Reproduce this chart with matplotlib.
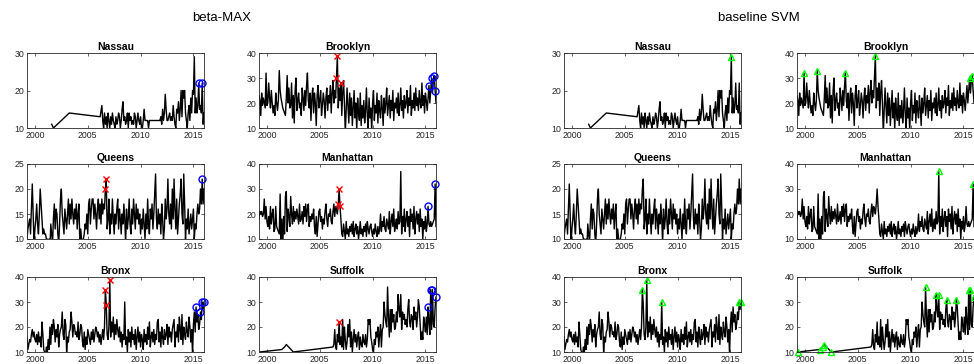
import numpy as np
import matplotlib
matplotlib.use('Agg')
from matplotlib import pyplot as plt

plt.rcParams['font.family'] = ['Liberation Sans', 'DejaVu Sans']

# monthly grid: month index 0 = 1999.25 (Apr 1999), 201 = 2016.0
_START = 1999.25

# ---- series (month index -> count) ----
brooklyn_start = 0
brooklyn = [23, 21, 15, 24, 19, 22, 20, 18, 32, 19, 20, 28,
            22, 18, 25, 20, 16, 19, 15, 24, 20, 17, 21, 33,
            25, 22, 20, 18, 17, 16, 15, 22, 31, 20, 26, 18,
            19, 28, 14, 23, 12, 25, 30, 17, 21, 24, 18, 20,
            15, 26, 22, 17, 25, 19, 27, 32, 21, 18, 24, 13,
            22, 26, 16, 24, 20, 11, 23, 27, 18, 21, 25, 15,
            19, 24, 21, 14, 22, 26, 17, 23, 20, 27, 16, 24,
            29, 20, 25, 22, 30, 39, 18, 26, 21, 28, 15, 24,
            29, 20, 8, 17, 26, 19, 12, 24, 15, 22, 11, 18,
            25, 14, 20, 9, 22, 16, 13, 24, 11, 19, 14, 21,
            12, 17, 26, 15, 10, 22, 14, 18, 9, 20, 25, 13,
            19, 16, 24, 12, 21, 17, 14, 23, 18, 11, 22, 16,
            20, 26, 15, 19, 23, 14, 21, 17, 25, 13, 20, 18,
            22, 16, 24, 15, 19, 26, 17, 21, 14, 23, 18, 20,
            25, 16, 22, 19, 27, 15, 21, 18, 24, 17, 26, 19,
            22, 17, 25, 20, 18, 28, 19, 23, 16, 24, 21, 17,
            22, 27, 20, 25, 30, 24, 29, 31, 25, 20]

queens_start = 0
queens = [10, 12, 13, 14, 11, 16, 21, 15, 9, 12, 14, 17,
          13, 11, 15, 20, 17, 14, 11, 12, 11, 11, 10, 10,
          9, 10, 8, 13, 11, 9, 14, 17, 12, 16, 15, 11,
          9, 13, 18, 20, 15, 13, 11, 16, 14, 12, 15, 18,
          13, 17, 14, 18, 15, 13, 16, 14, 17, 12, 15, 17,
          9, 12, 10, 8, 10, 11, 13, 12, 15, 11, 17, 18,
          13, 16, 18, 18, 14, 17, 15, 12, 16, 18, 14, 17,
          13, 18, 15, 17, 16, 20, 22, 12, 14, 18, 11, 15,
          13, 18, 14, 11, 15, 13, 16, 18, 12, 16, 14, 11,
          15, 13, 17, 14, 9, 16, 12, 14, 18, 13, 11, 16,
          13, 18, 15, 12, 17, 14, 16, 13, 15, 11, 14, 12,
          16, 13, 10, 15, 12, 18, 13, 11, 16, 14, 17, 12,
          15, 19, 23, 14, 12, 16, 13, 15, 11, 17, 14, 10,
          12, 18, 14, 16, 22, 15, 13, 17, 12, 20, 14, 22,
          16, 12, 18, 11, 14, 17, 19, 22, 15, 13, 23, 17,
          10, 14, 12, 16, 11, 13, 15, 12, 14, 16, 10, 13,
          12, 15, 17, 15, 16, 20, 17, 22, 17, 20]

manhattan_start = 0
manhattan = [18, 21, 20, 21, 19, 20, 26, 18, 23, 17, 15, 19,
             14, 23, 16, 20, 22, 13, 14, 23, 15, 14, 13, 12,
             28, 10, 18, 7, 19, 12, 27, 29, 13, 22, 19, 15,
             27, 20, 16, 23, 17, 21, 18, 22, 19, 16, 24, 17,
             18, 21, 16, 23, 19, 24, 17, 22, 24, 15, 19, 17,
             20, 18, 22, 15, 12, 19, 11, 16, 21, 22, 17, 19,
             14, 18, 16, 21, 24, 18, 15, 20, 19, 22, 17, 16,
             21, 24, 19, 23, 22, 20, 24, 30, 23, 18, 12, 11,
             16, 13, 10, 17, 12, 14, 11, 15, 13, 16, 12, 17,
             11, 14, 16, 12, 15, 10, 13, 17, 12, 14, 11, 15,
             13, 16, 11, 17, 14, 12, 15, 16, 13, 11, 14, 12,
             16, 13, 11, 15, 12, 14, 20, 13, 17, 15, 19, 14,
             13, 18, 16, 14, 21, 12, 17, 20, 15, 22, 13, 16,
             18, 14, 21, 16, 17, 37, 12, 19, 15, 22, 13, 18,
             21, 15, 19, 11, 22, 17, 20, 14, 23, 12, 18, 21,
             16, 20, 13, 22, 15, 18, 10, 17, 14, 19, 13, 16,
             23, 16, 15, 17, 15, 16, 17, 18, 32, 15]

bronx_start = 0
bronx = [16, 11, 13, 15, 14, 17, 19, 16, 18, 15, 14, 17,
         13, 18, 14, 16, 12, 22, 17, 11, 10, 8, 12, 9,
         15, 11, 20, 13, 21, 17, 23, 20, 14, 19, 16, 21,
         12, 17, 19, 20, 26, 17, 15, 23, 21, 10, 16, 14,
         18, 19, 26, 22, 16, 21, 20, 17, 18, 16, 22, 15,
         17, 21, 20, 14, 12, 18, 11, 16, 13, 19, 17, 15,
         13, 18, 15, 19, 14, 17, 20, 19, 16, 18, 14, 17,
         13, 16, 19, 15, 20, 35, 29, 17, 15, 20, 39, 16,
         22, 18, 24, 15, 21, 17, 23, 19, 16, 20, 14, 18,
         12, 17, 15, 30, 13, 16, 10, 19, 14, 18, 12, 20,
         15, 17, 13, 19, 11, 16, 20, 14, 18, 12, 17, 15,
         11, 19, 14, 17, 13, 20, 15, 22, 12, 16, 18, 14,
         19, 13, 17, 15, 22, 23, 14, 18, 12, 20, 16, 13,
         19, 15, 17, 21, 13, 20, 16, 18, 14, 19, 21, 23,
         12, 18, 16, 21, 14, 24, 19, 15, 25, 13, 20, 17,
         15, 22, 18, 16, 24, 20, 14, 19, 9, 21, 26, 18,
         28, 22, 25, 19, 21, 26, 23, 30, 27, 30]

# Nassau and Suffolk have a few scattered early months, then monthly data
nassau_sparse_idx = [28, 30, 48, 83]
nassau_sparse_val = [11, 10, 14, 13]
nassau_start = 85
nassau = [16, 12, 10, 14, 11, 13, 10, 14, 12, 10, 13, 11,
          14, 12, 11, 10, 13, 11, 12, 14, 13, 10, 12, 15,
          17, 12, 13, 11, 12, 14, 10, 14, 12, 13, 11, 12,
          11, 14, 13, 10, 12, 14, 12, 11, 13, 10, 10, 12,
          15, 12, 12, 12, 12, 10, 12, 12, 12, 12, 12, 12,
          12, 12, 12, 12, 12, 12, 12, 13, 11, 15, 12, 14,
          19, 15, 12, 12, 13, 14, 12, 13, 12, 16, 13, 11,
          10, 15, 14, 17, 12, 15, 20, 13, 20, 18, 20, 14,
          12, 10, 14, 16, 12, 18, 14, 20, 19, 29, 14, 18,
          14, 16, 22, 15, 16, 14, 22, 11, 14]

suffolk_sparse_idx = [1, 26, 29, 31, 39, 84]
suffolk_sparse_val = [10, 11, 12, 13, 10, 12]
suffolk_start = 85
suffolk = [13, 19, 12, 11, 17, 14, 22, 13, 16, 12, 23, 11,
           20, 15, 11, 14, 21, 16, 23, 12, 18, 10, 15, 19,
           14, 17, 12, 16, 18, 11, 16, 13, 12, 17, 14, 13,
           17, 12, 15, 23, 21, 23, 16, 14, 11, 10, 15, 13,
           18, 16, 20, 12, 17, 21, 12, 19, 20, 30, 25, 22,
           20, 36, 24, 16, 27, 18, 27, 22, 25, 19, 20, 26,
           22, 33, 27, 24, 33, 19, 26, 23, 25, 21, 23, 20,
           27, 31, 22, 20, 25, 24, 19, 28, 23, 26, 20, 24,
           31, 28, 21, 15, 18, 15, 24, 21, 18, 24, 17, 28,
           22, 17, 35, 19, 35, 21, 20, 28, 32]

# ---- detections (month indices) ----
# beta-MAX: red x and blue o
red_x = {'Nassau': [], 'Brooklyn': [88, 89, 93], 'Queens': [89, 90],
         'Manhattan': [90, 91, 92], 'Bronx': [89, 90, 94], 'Suffolk': [91]}
blue_o = {'Nassau': [195, 199], 'Brooklyn': [193, 196, 199, 200], 'Queens': [199],
          'Manhattan': [192, 200], 'Bronx': [192, 197, 199, 201],
          'Suffolk': [192, 195, 197, 201]}
# baseline SVM: green triangles
green_tri = {'Nassau': [190], 'Brooklyn': [8, 23, 55, 89, 196, 199], 'Queens': [],
             'Manhattan': [161, 200], 'Bronx': [89, 94, 111, 199, 201],
             'Suffolk': [1, 26, 29, 31, 39, 146, 158, 161, 170, 181, 195, 197, 201]}

cities = ['Nassau', 'Brooklyn', 'Queens', 'Manhattan', 'Bronx', 'Suffolk']
ylims = {'Nassau': (10, 30), 'Queens': (10, 25)}
yticks = {'Nassau': [10, 20, 30], 'Queens': [10, 15, 20, 25]}
xticks = [2000, 2005, 2010, 2015]


def build(sparse_idx, sparse_val, start, dense):
    idx = list(sparse_idx) + list(range(start, start + len(dense)))
    val = list(sparse_val) + list(dense)
    return np.array(idx), np.array(val, dtype=float)


series = {
    'Nassau': build(nassau_sparse_idx, nassau_sparse_val, nassau_start, nassau),
    'Brooklyn': build([], [], brooklyn_start, brooklyn),
    'Queens': build([], [], queens_start, queens),
    'Manhattan': build([], [], manhattan_start, manhattan),
    'Bronx': build([], [], bronx_start, bronx),
    'Suffolk': build(suffolk_sparse_idx, suffolk_sparse_val, suffolk_start, suffolk),
}

W, H = 974, 364
fig = plt.figure(figsize=(W / 100, H / 100), dpi=100)

col_px = [[27, 259], [564, 797]]
row_px = [53, 164, 277]
aw, ah = 177, 75
gray = (0.15, 0.15, 0.15)


def pick(city, months):
    idx, val = series[city]
    lookup = dict(zip(idx.tolist(), val.tolist()))
    xs = [_START + m / 12.0 for m in months]
    ys = [lookup[m] for m in months]
    return xs, ys


for g in range(2):
    for k, city in enumerate(cities):
        r, c = k // 2, k % 2
        left = col_px[g][c]
        top = row_px[r]
        ax = fig.add_axes([left / W, 1 - (top + ah) / H, aw / W, ah / H])
        idx, val = series[city]
        ax.plot(_START + idx / 12.0, val, color='k', lw=1.0)
        if g == 0:
            xs, ys = pick(city, red_x[city])
            ax.plot(xs, ys, 'x', color='r', ms=4, mew=1, clip_on=False)
            xs, ys = pick(city, blue_o[city])
            ax.plot(xs, ys, 'o', mfc='none', mec='b', ms=5, mew=1, clip_on=False)
        else:
            xs, ys = pick(city, green_tri[city])
            ax.plot(xs, ys, '^', mfc='none', mec=(0, 1, 0), ms=5, mew=1, clip_on=False)
        ax.set_xlim(1999.25, 2016.0)
        ax.set_ylim(*ylims.get(city, (10, 40)))
        ax.set_xticks(xticks)
        ax.set_yticks(yticks.get(city, [10, 20, 30, 40]))
        ax.tick_params(direction='in', length=2, width=0.5, top=True, right=True,
                       labelsize=6.3, colors=gray, pad=2)
        for s in ax.spines.values():
            s.set_color(gray)
            s.set_linewidth(0.6)
        ax.set_title(city, fontsize=7.5, fontweight='bold', pad=2.5)

fig.text(222 / W, 1 - 18 / H, 'beta-MAX', ha='center', va='center', fontsize=9.5)
fig.text(759 / W, 1 - 18 / H, 'baseline SVM', ha='center', va='center', fontsize=9.5)

fig.savefig('out.png', dpi=100, facecolor='white')
